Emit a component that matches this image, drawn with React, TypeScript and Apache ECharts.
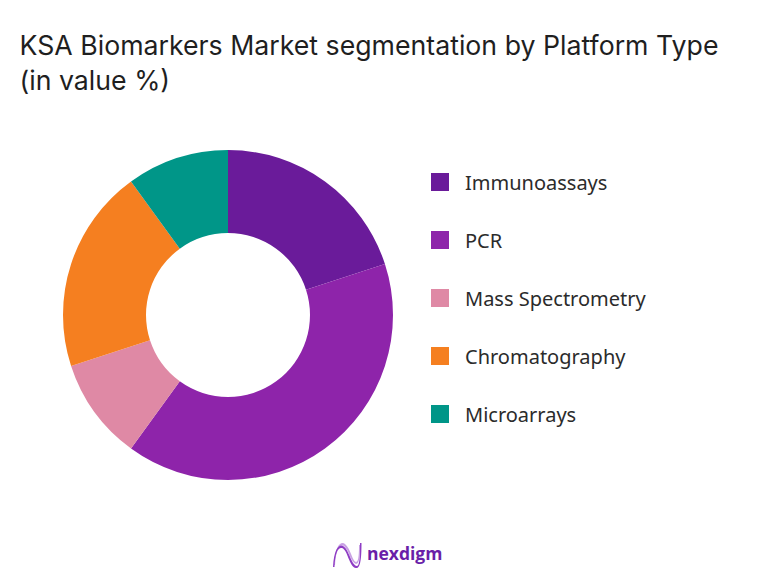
import { useEffect, useRef } from 'react';
import * as echarts from 'echarts';

const categories = ['Immunoassays', 'PCR', 'Mass Spectrometry', 'Chromatography', 'Microarrays'];
const shares = [20, 40, 10, 20, 10];
const colors = ['#6A1B9A', '#8E24AA', '#DF89A5', '#F57F20', '#009688'];

const titleText = 'KSA Biomarkers Market segmentation by Platform Type\n(in value %)';

// logo strands, the second one is the pale echo behind the first
echarts.graphic.registerShape(
  'nexdigmWave',
  echarts.graphic.extendPath(
    'M1 26 C2 8 7 3 11 5 C17 8 19 24 25 25 C28 25 28 12 28 2 L29.5 2 C29.5 14 29 28 24 27 C17 26 16 9 10 7 C6 6 3 12 2.5 26 Z',
    {},
  ),
);
echarts.graphic.registerShape(
  'nexdigmWaveLight',
  echarts.graphic.extendPath(
    'M2 24 C3 4 9 0 13 3 C19 8 20 20 24 21 C27 21 27 10 27 4 L28 4 C28 12 28 23 24 23 C19 22 17 9 12 5 C8 2 4 8 3 24 Z',
    {},
  ),
);

export default function App() {
  const chartRef = useRef<HTMLDivElement>(null);

  useEffect(() => {
    if (!chartRef.current) return;

    const chart = echarts.init(chartRef.current, undefined, { renderer: 'svg' });

    chart.setOption({
      animation: false,
      backgroundColor: '#FFFFFF',
      title: {
        text: titleText,
        left: 14.5,
        top: 22,
        textStyle: {
          color: '#1F1F1F',
          fontFamily: 'Inter',
          fontSize: 26.7,
          fontWeight: 400,
          lineHeight: 35,
        },
      },
      legend: {
        orient: 'vertical',
        left: 426,
        top: 167,
        itemWidth: 18,
        itemHeight: 18,
        itemGap: 38,
        icon: 'rect',
        data: categories,
        textStyle: {
          color: '#2B2B2B',
          fontFamily: 'Noto Sans',
          fontSize: 20,
          padding: [0, 0, 0, 11],
        },
      },
      series: [
        {
          type: 'pie',
          center: [228, 315],
          radius: [82, 165],
          startAngle: 90,
          label: { show: false },
          labelLine: { show: false },
          data: categories.map((name, i) => ({
            name,
            value: shares[i],
            itemStyle: { color: colors[i] },
          })),
        },
      ],
      graphic: [
        {
          type: 'nexdigmWaveLight',
          x: 332,
          y: 541,
          style: { fill: '#C9A2E4' },
        },
        {
          type: 'nexdigmWave',
          x: 332,
          y: 541,
          style: { fill: '#8E3CC4' },
        },
        {
          type: 'text',
          x: 367,
          y: 544,
          style: {
            text: 'nexdigm',
            fill: '#6A1FA8',
            font: '700 17.5px "Open Sans"',
          },
        },
      ],
    });

    return () => {
      chart.dispose();
    };
  }, []);

  return <div ref={chartRef} style={{ position: 'fixed', left: 0, top: 0, width: 772, height: 569 }} />;
}
